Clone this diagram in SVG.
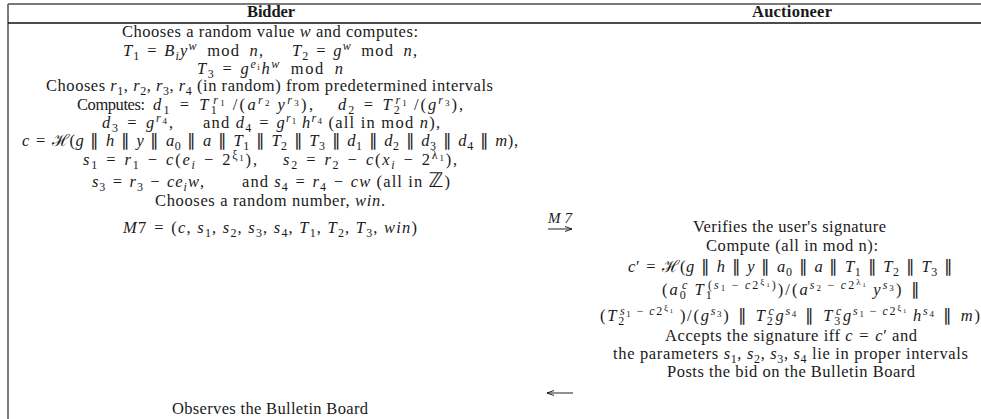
<svg xmlns="http://www.w3.org/2000/svg" width="981" height="419" viewBox="0 0 981 419">
<defs>
<style>
.tx{font-family:"Liberation Serif","Times New Roman",serif;font-size:16.5px;fill:#1a1a1a}
.b{font-weight:bold;font-size:16.5px}
.i{font-style:italic}
.sb{font-size:12px;baseline-shift:-3.5px}
.sp{font-size:12px;baseline-shift:6px}
.ss{font-size:9px;baseline-shift:4px}
.ssb{font-size:9px;baseline-shift:-2px;font-style:normal}
.sss{font-size:6.5px;baseline-shift:-1.5px;font-style:normal}
.frame{stroke:#7a7a7a;stroke-width:2;fill:none}
.rule{stroke:#111;stroke-width:1.5;fill:none}
.conn{stroke:#222;stroke-width:1;fill:none}
</style>
<marker id="ah" markerWidth="8" markerHeight="6" refX="7" refY="3" orient="auto" markerUnits="userSpaceOnUse">
<path d="M0,0.5 L7,3 L0,5.5" fill="none" stroke="#222" stroke-width="1"/>
</marker>
</defs>
<rect width="981" height="419" fill="#fff"/>
<g id="table">
<line class="frame" x1="8" y1="4" x2="981" y2="4"/>
<line class="frame" x1="8" y1="4" x2="8" y2="419"/>
<line class="rule" x1="8" y1="23" x2="981" y2="23"/>
</g>
<g id="bidder">
<text class="tx b" x="247" y="17" textLength="48">Bidder</text>
<text class="tx" x="122" y="37" textLength="296">Chooses a random value <tspan class="i">w</tspan> and computes:</text>
<text class="tx" x="123" y="56" textLength="140"><tspan class="i">T</tspan><tspan class="sb">1</tspan>&#8196;=&#8196;<tspan class="i">B</tspan><tspan class="sb i">i</tspan><tspan class="i">y</tspan><tspan class="sp i">w</tspan>&#8194;mod&#8194;<tspan class="i">n</tspan>,</text>
<text class="tx" x="292" y="56" textLength="125"><tspan class="i">T</tspan><tspan class="sb">2</tspan>&#8196;=&#8196;<tspan class="i">g</tspan><tspan class="sp i">w</tspan>&#8194;mod&#8194;<tspan class="i">n</tspan>,</text>
<text class="tx" x="197" y="74" textLength="146"><tspan class="i">T</tspan><tspan class="sb">3</tspan>&#8196;=&#8196;<tspan class="i">g</tspan><tspan class="sp"><tspan class="i">e</tspan><tspan class="ssb i">i</tspan></tspan><tspan class="i">h</tspan><tspan class="sp i">w</tspan>&#8194;mod&#8194;<tspan class="i">n</tspan></text>
<text class="tx" x="46" y="91" textLength="447">Chooses <tspan class="i">r</tspan><tspan class="sb">1</tspan>, <tspan class="i">r</tspan><tspan class="sb">2</tspan>, <tspan class="i">r</tspan><tspan class="sb">3</tspan>, <tspan class="i">r</tspan><tspan class="sb">4</tspan> (in random) from predetermined intervals</text>
<text class="tx" x="77" y="110" textLength="68">Computes:</text>
<text class="tx" x="153" y="110" textLength="160"><tspan class="i">d</tspan><tspan class="sb">1</tspan>&#8196;=&#8196;<tspan class="i">T</tspan><tspan class="sb">1</tspan><tspan class="sp" dx="-6"><tspan class="i">r</tspan><tspan class="ssb">1</tspan></tspan>&#8201;/(<tspan class="i">a</tspan><tspan class="sp"><tspan class="i">r</tspan><tspan class="ssb">2</tspan></tspan>&#8201;<tspan class="i">y</tspan><tspan class="sp"><tspan class="i">r</tspan><tspan class="ssb">3</tspan></tspan>),</text>
<text class="tx" x="338" y="110" textLength="125"><tspan class="i">d</tspan><tspan class="sb">2</tspan>&#8196;=&#8196;<tspan class="i">T</tspan><tspan class="sb">2</tspan><tspan class="sp" dx="-6"><tspan class="i">r</tspan><tspan class="ssb">1</tspan></tspan>&#8201;/(<tspan class="i">g</tspan><tspan class="sp"><tspan class="i">r</tspan><tspan class="ssb">3</tspan></tspan>),</text>
<text class="tx" x="102" y="128" textLength="71"><tspan class="i">d</tspan><tspan class="sb">3</tspan>&#8196;=&#8196;<tspan class="i">g</tspan><tspan class="sp"><tspan class="i">r</tspan><tspan class="ssb">4</tspan></tspan>,</text>
<text class="tx" x="203" y="128" textLength="237">and <tspan class="i">d</tspan><tspan class="sb">4</tspan>&#8196;=&#8196;<tspan class="i">g</tspan><tspan class="sp"><tspan class="i">r</tspan><tspan class="ssb">1</tspan></tspan>&#8201;<tspan class="i">h</tspan><tspan class="sp"><tspan class="i">r</tspan><tspan class="ssb">4</tspan></tspan> (all in mod <tspan class="i">n</tspan>),</text>
<text class="tx" x="22" y="146" textLength="496"><tspan class="i">c</tspan>&#8196;=&#8196;ℋ(<tspan class="i">g</tspan>&#8196;∥&#8196;<tspan class="i">h</tspan>&#8196;∥&#8196;<tspan class="i">y</tspan>&#8196;∥&#8196;<tspan class="i">a</tspan><tspan class="sb">0</tspan>&#8196;∥&#8196;<tspan class="i">a</tspan>&#8196;∥&#8196;<tspan class="i">T</tspan><tspan class="sb">1</tspan>&#8196;∥&#8196;<tspan class="i">T</tspan><tspan class="sb">2</tspan>&#8196;∥&#8196;<tspan class="i">T</tspan><tspan class="sb">3</tspan>&#8196;∥&#8196;<tspan class="i">d</tspan><tspan class="sb">1</tspan>&#8196;∥&#8196;<tspan class="i">d</tspan><tspan class="sb">2</tspan>&#8196;∥&#8196;<tspan class="i">d</tspan><tspan class="sb">3</tspan>&#8196;∥&#8196;<tspan class="i">d</tspan><tspan class="sb">4</tspan>&#8196;∥&#8196;<tspan class="i">m</tspan>),</text>
<text class="tx" x="83" y="165" textLength="174"><tspan class="i">s</tspan><tspan class="sb">1</tspan>&#8196;=&#8196;<tspan class="i">r</tspan><tspan class="sb">1</tspan>&#8196;−&#8196;<tspan class="i">c</tspan>(<tspan class="i">e</tspan><tspan class="sb i">i</tspan>&#8196;−&#8196;2<tspan class="sp">ξ<tspan class="ssb">1</tspan></tspan>),</text>
<text class="tx" x="283" y="165" textLength="174"><tspan class="i">s</tspan><tspan class="sb">2</tspan>&#8196;=&#8196;<tspan class="i">r</tspan><tspan class="sb">2</tspan>&#8196;−&#8196;<tspan class="i">c</tspan>(<tspan class="i">x</tspan><tspan class="sb i">i</tspan>&#8196;−&#8196;2<tspan class="sp">λ<tspan class="ssb">1</tspan></tspan>),</text>
<text class="tx" x="92" y="187" textLength="112"><tspan class="i">s</tspan><tspan class="sb">3</tspan>&#8196;=&#8196;<tspan class="i">r</tspan><tspan class="sb">3</tspan>&#8196;−&#8196;<tspan class="i">ce</tspan><tspan class="sb i">i</tspan><tspan class="i">w</tspan>,</text>
<text class="tx" x="242" y="187" textLength="208">and <tspan class="i">s</tspan><tspan class="sb">4</tspan>&#8196;=&#8196;<tspan class="i">r</tspan><tspan class="sb">4</tspan>&#8196;−&#8196;<tspan class="i">cw</tspan> (all in <tspan style="font-family:'DejaVu Sans',sans-serif;font-size:20px">ℤ</tspan>)</text>
<text class="tx" x="155" y="206" textLength="230">Chooses a random number, <tspan class="i">win</tspan>.</text>
<text class="tx" x="123" y="233" textLength="294"><tspan class="i">M</tspan>7&#8196;=&#8196;(<tspan class="i">c</tspan>, <tspan class="i">s</tspan><tspan class="sb">1</tspan>, <tspan class="i">s</tspan><tspan class="sb">2</tspan>, <tspan class="i">s</tspan><tspan class="sb">3</tspan>, <tspan class="i">s</tspan><tspan class="sb">4</tspan>, <tspan class="i">T</tspan><tspan class="sb">1</tspan>, <tspan class="i">T</tspan><tspan class="sb">2</tspan>, <tspan class="i">T</tspan><tspan class="sb">3</tspan>, <tspan class="i">win</tspan>)</text>
<text class="tx" x="172" y="414" textLength="196">Observes the Bulletin Board</text>
</g>
<g id="auctioneer">
<text class="tx b" x="752" y="17" textLength="80">Auctioneer</text>
<text class="tx" x="693" y="232" textLength="193">Verifies the user's signature</text>
<text class="tx" x="706" y="251" textLength="172">Compute (all in mod n):</text>
<text class="tx" x="628" y="272" textLength="325"><tspan class="i">c</tspan>′&#8196;=&#8196;ℋ(<tspan class="i">g</tspan>&#8196;∥&#8196;<tspan class="i">h</tspan>&#8196;∥&#8196;<tspan class="i">y</tspan>&#8196;∥&#8196;<tspan class="i">a</tspan><tspan class="sb">0</tspan>&#8196;∥&#8196;<tspan class="i">a</tspan>&#8196;∥&#8196;<tspan class="i">T</tspan><tspan class="sb">1</tspan>&#8196;∥&#8196;<tspan class="i">T</tspan><tspan class="sb">2</tspan>&#8196;∥&#8196;<tspan class="i">T</tspan><tspan class="sb">3</tspan>&#8196;∥</text>
<text class="tx" x="662" y="295" textLength="258">(<tspan class="i">a</tspan><tspan class="sb">0</tspan><tspan class="sp i" dx="-6">c</tspan>&#8201;<tspan class="i">T</tspan><tspan class="sb">1</tspan><tspan class="sp" dx="-6">(<tspan class="i">s</tspan><tspan class="ssb">1</tspan>&#8201;−&#8201;<tspan class="i">c</tspan>2<tspan class="ss">ξ<tspan class="sss">1</tspan></tspan>)</tspan>)/(<tspan class="i">a</tspan><tspan class="sp"><tspan class="i">s</tspan><tspan class="ssb">2</tspan>&#8201;−&#8201;<tspan class="i">c</tspan>2<tspan class="ss">λ<tspan class="sss">1</tspan></tspan></tspan>&#8201;<tspan class="i">y</tspan><tspan class="sp"><tspan class="i">s</tspan><tspan class="ssb">3</tspan></tspan>)&#8196;∥</text>
<text class="tx" x="600" y="321" textLength="380">(<tspan class="i">T</tspan><tspan class="sb">2</tspan><tspan class="sp" dx="-6"><tspan class="i">s</tspan><tspan class="ssb">1</tspan>&#8201;−&#8201;<tspan class="i">c</tspan>2<tspan class="ss">ξ<tspan class="sss">1</tspan></tspan></tspan>&#8201;)/(<tspan class="i">g</tspan><tspan class="sp"><tspan class="i">s</tspan><tspan class="ssb">3</tspan></tspan>)&#8196;∥&#8196;<tspan class="i">T</tspan><tspan class="sb">2</tspan><tspan class="sp i" dx="-6">c</tspan><tspan class="i">g</tspan><tspan class="sp"><tspan class="i">s</tspan><tspan class="ssb">4</tspan></tspan>&#8196;∥&#8196;<tspan class="i">T</tspan><tspan class="sb">3</tspan><tspan class="sp i" dx="-6">c</tspan><tspan class="i">g</tspan><tspan class="sp"><tspan class="i">s</tspan><tspan class="ssb">1</tspan>&#8201;−&#8201;<tspan class="i">c</tspan>2<tspan class="ss">ξ<tspan class="sss">1</tspan></tspan></tspan>&#8201;<tspan class="i">h</tspan><tspan class="sp"><tspan class="i">s</tspan><tspan class="ssb">4</tspan></tspan>&#8196;∥&#8196;<tspan class="i">m</tspan>)</text>
<text class="tx" x="665" y="341" textLength="252">Accepts the signature iff <tspan class="i">c</tspan>&#8196;=&#8196;<tspan class="i">c</tspan>′ and</text>
<text class="tx" x="613" y="359" textLength="355">the parameters <tspan class="i">s</tspan><tspan class="sb">1</tspan>, <tspan class="i">s</tspan><tspan class="sb">2</tspan>, <tspan class="i">s</tspan><tspan class="sb">3</tspan>, <tspan class="i">s</tspan><tspan class="sb">4</tspan> lie in proper intervals</text>
<text class="tx" x="667" y="377" textLength="248">Posts the bid on the Bulletin Board</text>
</g>
<g id="connectors">
<text class="tx i" x="548" y="223" textLength="24" style="font-size:15px">M7</text>
<line class="conn" x1="548" y1="229" x2="572" y2="229" marker-end="url(#ah)"/>
<line class="conn" x1="573" y1="393" x2="547" y2="393" marker-end="url(#ah)"/>
</g>
</svg>
